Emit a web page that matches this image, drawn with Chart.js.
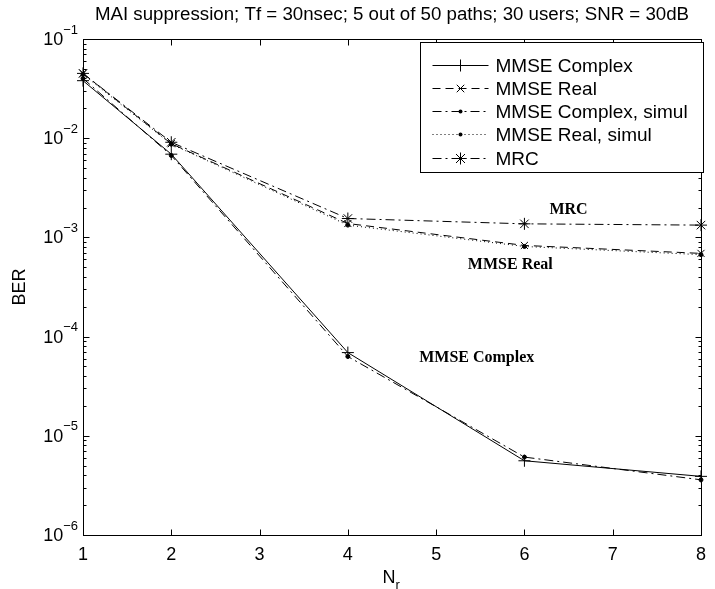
<!DOCTYPE html>
<html>
<head>
<meta charset="utf-8">
<script src="https://cdn.jsdelivr.net/npm/chart.js@4/dist/chart.umd.min.js"></script>
<style>
  html, body { margin: 0; padding: 0; background: #fff; }
  #wrap { width: 715px; height: 589px; }
</style>
</head>
<body>
<div id="wrap"><canvas id="berChart" width="715" height="589"></canvas></div>
<script>
// receive antennas N_r and BER per receiver
const nr = [1, 2, 4, 6, 8];
const mmseComplex      = [0.038, 0.0069, 6.9e-5, 5.6e-6, 3.9e-6];
const mmseReal         = [0.045, 0.0088, 1.38e-3, 8.3e-4, 6.9e-4];
const mmseComplexSimul = [0.040, 0.0067, 6.3e-5, 6.1e-6, 3.6e-6];
const mmseRealSimul    = [0.044, 0.0087, 1.33e-3, 8.1e-4, 6.7e-4];
const mrc              = [0.045, 0.0091, 1.55e-3, 1.37e-3, 1.33e-3];

const xTicks = [1, 2, 3, 4, 5, 6, 7, 8];
const decades = [-6, -5, -4, -3, -2, -1];

const titleText = 'MAI suppression; Tf = 30nsec; 5 out of 50 paths; 30 users; SNR = 30dB';

// curve names written inside the axes
const curveNotes = [
    { text: 'MRC', x: 6.5, y: 1.9e-3 },
    { text: 'MMSE Real', x: 5.84, y: 5.3e-4 },
    { text: 'MMSE Complex', x: 5.46, y: 6.1e-5 }
];

const sans = '"Liberation Sans", Arial, sans-serif';
const serif = '"Liberation Serif", "Times New Roman", serif';

const pts = arr => arr.map((v, i) => ({ x: nr[i], y: v }));

function drawMarker(ctx, style, r, x, y) {
    ctx.beginPath();
    if (style === 'cross' || style === 'star') {
        ctx.moveTo(x - r, y); ctx.lineTo(x + r, y);
        ctx.moveTo(x, y - r); ctx.lineTo(x, y + r);
    }
    if (style === 'crossRot' || style === 'star') {
        const d = r * 0.75;
        ctx.moveTo(x - d, y - d); ctx.lineTo(x + d, y + d);
        ctx.moveTo(x - d, y + d); ctx.lineTo(x + d, y - d);
    }
    ctx.stroke();
    if (style === 'circle') {
        ctx.beginPath();
        ctx.arc(x, y, r, 0, Math.PI * 2);
        ctx.fill();
    }
}

function hline(ctx, x1, y1, x2, y2) {
    ctx.beginPath();
    ctx.moveTo(x1, y1);
    ctx.lineTo(x2, y2);
    ctx.stroke();
}

const matlabAxes = {
    id: 'matlabAxes',
    afterDraw(chart) {
        const { ctx, chartArea: a, scales: { x, y } } = chart;
        ctx.save();
        ctx.strokeStyle = '#000';
        ctx.fillStyle = '#000';
        ctx.lineWidth = 1;
        ctx.setLineDash([]);

        const L = Math.round(a.left) + 0.5, R = Math.round(a.right) + 0.5;
        const T = Math.round(a.top) + 0.5, B = Math.round(a.bottom) + 0.5;
        ctx.strokeRect(L, T, R - L, B - T);

        // inward ticks on all four sides
        xTicks.forEach(v => {
            const px = Math.round(x.getPixelForValue(v)) + 0.5;
            hline(ctx, px, B, px, B - 6);
            hline(ctx, px, T, px, T + 6);
        });
        decades.forEach(e => {
            const py = Math.round(y.getPixelForValue(Math.pow(10, e))) + 0.5;
            hline(ctx, L, py, L + 6, py);
            hline(ctx, R, py, R - 6, py);
            if (e > -6) {
                for (let k = 2; k <= 9; k++) {
                    const my = Math.round(y.getPixelForValue(k * Math.pow(10, e - 1))) + 0.5;
                    hline(ctx, L, my, L + 3, my);
                    hline(ctx, R, my, R - 3, my);
                }
            }
        });

        // decade labels 10^e
        decades.forEach(e => {
            const py = y.getPixelForValue(Math.pow(10, e));
            const exp = '\u2212' + Math.abs(e);
            ctx.font = '13px ' + sans;
            const ew = ctx.measureText(exp).width;
            const right = a.left - 5;
            ctx.textAlign = 'left';
            ctx.textBaseline = 'middle';
            ctx.fillText(exp, right - ew, py - 9);
            ctx.font = '18px ' + sans;
            const bw = ctx.measureText('10').width;
            ctx.fillText('10', right - ew - bw, py + 1);
        });

        // title and axis labels
        const cx = (a.left + a.right) / 2;
        ctx.textAlign = 'center';
        ctx.textBaseline = 'middle';
        ctx.font = '18.7px ' + sans;
        ctx.fillText(titleText, cx, 15);

        ctx.font = '18px ' + sans;
        const nw = ctx.measureText('N').width;
        ctx.fillText('N', cx - 3, 578);
        ctx.font = '13px ' + sans;
        ctx.textAlign = 'left';
        ctx.fillText('r', cx - 3 + nw / 2, 585);

        ctx.save();
        ctx.translate(20, (a.top + a.bottom) / 2);
        ctx.rotate(-Math.PI / 2);
        ctx.textAlign = 'center';
        ctx.font = '18px ' + sans;
        ctx.fillText('BER', 0, 0);
        ctx.restore();

        // curve notes
        ctx.textAlign = 'center';
        ctx.font = 'bold 16px ' + serif;
        curveNotes.forEach(n => {
            ctx.fillText(n.text, x.getPixelForValue(n.x), y.getPixelForValue(n.y));
        });

        // legend box, top right
        const box = { left: 420.5, top: 42.5, right: 703.5, bottom: 172.5 };
        ctx.fillStyle = '#fff';
        ctx.fillRect(box.left, box.top, box.right - box.left, box.bottom - box.top);
        ctx.strokeRect(box.left, box.top, box.right - box.left, box.bottom - box.top);
        ctx.fillStyle = '#000';
        ctx.font = '19px ' + sans;
        ctx.textAlign = 'left';
        chart.data.datasets.forEach((ds, i) => {
            const ry = Math.round(box.top + 22 + i * 23.3) + 0.5;
            ctx.setLineDash(ds.borderDash || []);
            hline(ctx, box.left + 12, ry, box.left + 68, ry);
            ctx.setLineDash([]);
            drawMarker(ctx, ds.pointStyle, ds.pointRadius, box.left + 40, ry);
            ctx.fillText(ds.label, box.left + 75, ry + 1);
        });
        ctx.restore();
    }
};

const common = {
    borderColor: '#000',
    backgroundColor: '#000',
    pointBorderColor: '#000',
    pointBackgroundColor: '#000',
    borderWidth: 1,
    pointBorderWidth: 1,
    tension: 0,
    fill: false,
    clip: false
};

new Chart(document.getElementById('berChart').getContext('2d'), {
    type: 'line',
    data: {
        datasets: [
            { ...common, label: 'MMSE Complex', data: pts(mmseComplex), borderDash: [], pointStyle: 'cross', pointRadius: 6 },
            { ...common, label: 'MMSE Real', data: pts(mmseReal), borderDash: [8, 5], pointStyle: 'crossRot', pointRadius: 5 },
            { ...common, label: 'MMSE Complex, simul', data: pts(mmseComplexSimul), borderDash: [9, 4, 2, 4], pointStyle: 'circle', pointRadius: 2 },
            { ...common, label: 'MMSE Real, simul', data: pts(mmseRealSimul), borderDash: [1, 3], pointStyle: 'circle', pointRadius: 2 },
            { ...common, label: 'MRC', data: pts(mrc), borderDash: [9, 4, 2, 4], pointStyle: 'star', pointRadius: 6 }
        ]
    },
    options: {
        responsive: false,
        animation: false,
        layout: { padding: { top: 39, right: 6, left: 0, bottom: 0 } },
        plugins: { legend: { display: false }, tooltip: { enabled: false } },
        scales: {
            x: {
                type: 'linear',
                min: 1,
                max: 8,
                grid: { display: false, drawTicks: false },
                border: { display: false },
                ticks: {
                    stepSize: 1,
                    color: '#000',
                    padding: 9,
                    font: { family: sans, size: 18 }
                },
                afterFit: s => { s.height = 54; }
            },
            y: {
                type: 'logarithmic',
                min: 1e-6,
                max: 1e-1,
                grid: { display: false, drawTicks: false },
                border: { display: false },
                ticks: { display: false },
                afterFit: s => { s.width = 83; }
            }
        }
    },
    plugins: [matlabAxes]
});
</script>
</body>
</html>
